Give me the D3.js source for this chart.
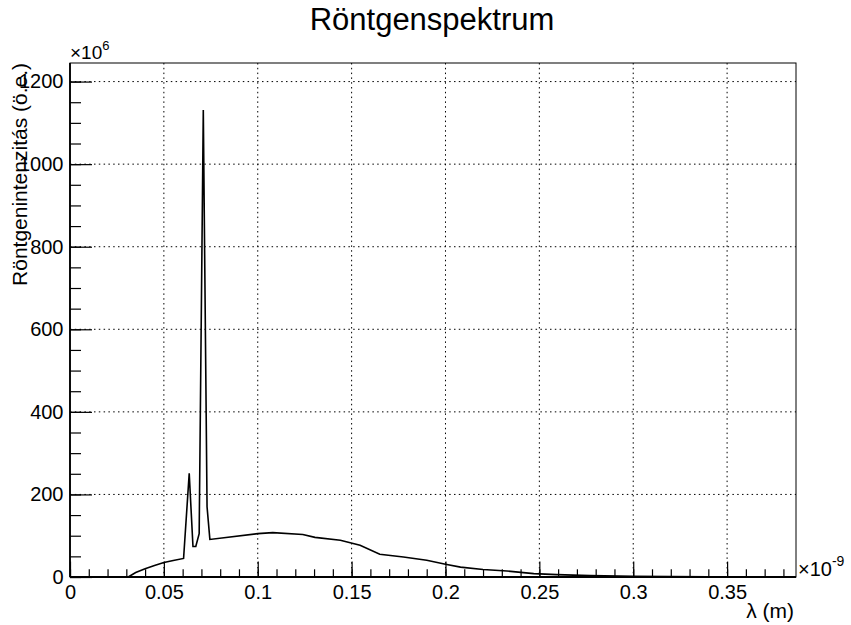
<!DOCTYPE html>
<html>
<head>
<meta charset="utf-8">
<script src="https://cdn.jsdelivr.net/npm/d3@7"></script>
<style>
  body { margin: 0; background: #fff; }
  svg text { font-family: "Liberation Sans", Arial, Helvetica, sans-serif; fill: #000; }
  .grid line { stroke: #000; stroke-width: 1; stroke-dasharray: 1.5,3.3; }
  .axis path { display: none; }
  .axis line { stroke: #000; stroke-width: 1.2; }
  .axis text { font-size: 20px; }
</style>
</head>
<body>
<svg id="chart" width="851" height="625"></svg>
<script>
  "use strict";

  // wavelength in units of 1e-9 m, intensity in units of 1e6 (arb. units)
  var wavelength = [0.031, 0.035, 0.040, 0.045, 0.050, 0.055, 0.0605, 0.0635, 0.0655, 0.067,
    0.0688, 0.071, 0.073, 0.0745, 0.100, 0.108, 0.124, 0.1305, 0.144, 0.1545,
    0.165, 0.1776, 0.190, 0.200, 0.208, 0.220, 0.2327, 0.247, 0.2593, 0.277,
    0.300, 0.320, 0.340, 0.350];
  var intensity = [0, 11, 20, 28, 35, 40, 45, 251, 74, 74,
    105, 1131, 170, 91, 105, 107.6, 103, 96, 89, 77,
    55, 48.5, 40.5, 31, 24, 18, 14.5, 8.2, 5.8, 3.4,
    1.7, 0.8, 0.2, 0];

  var xTickLabels = ["0", "0.05", "0.1", "0.15", "0.2", "0.25", "0.3", "0.35"];
  var yTickLabels = ["0", "200", "400", "600", "800", "1000", "1200"];

  var title = "Röntgenspektrum";
  var xTitle = "λ (m)";
  var yTitle = "Röntgenintenzitás (ö.e.)";

  var svg = d3.select('#chart');
  var frame = { left: 70, right: 796, top: 63, bottom: 577 };

  var x = d3.scaleLinear().domain([0, 0.3867]).range([frame.left, frame.right]);
  var y = d3.scaleLinear().domain([0, 1245]).range([frame.bottom, frame.top]);

  var xMajor = xTickLabels.map(Number);
  var yMajor = yTickLabels.map(Number);

  // dotted grid
  var grid = svg.append('g').classed('grid', true);
  grid.selectAll('line.gx')
    .data(xMajor.filter(function(v) { return v > 0; }))
    .enter()
    .append('line')
    .attr('x1', function(v) { return x(v); })
    .attr('x2', function(v) { return x(v); })
    .attr('y1', frame.top)
    .attr('y2', frame.bottom);
  grid.selectAll('line.gy')
    .data(yMajor.filter(function(v) { return v > 0; }))
    .enter()
    .append('line')
    .attr('x1', frame.left)
    .attr('x2', frame.right)
    .attr('y1', function(v) { return y(v); })
    .attr('y2', function(v) { return y(v); });

  // frame
  svg.append('rect')
    .attr('x', frame.left)
    .attr('y', frame.top)
    .attr('width', frame.right - frame.left)
    .attr('height', frame.bottom - frame.top)
    .attr('fill', 'none')
    .attr('stroke', '#000')
    .attr('stroke-width', 1);

  // spectrum
  var line = d3.line()
    .x(function(d) { return x(d[0]); })
    .y(function(d) { return y(d[1]); });
  svg.append('path')
    .datum(d3.zip(wavelength, intensity))
    .attr('d', line)
    .attr('fill', 'none')
    .attr('stroke', '#000')
    .attr('stroke-width', 1.6)
    .attr('stroke-linejoin', 'miter');

  // x axis: minor ticks, then major ticks with labels
  svg.append('g')
    .classed('axis', true)
    .attr('transform', 'translate(0,' + frame.bottom + ')')
    .call(d3.axisBottom(x).tickValues(x.ticks(40)).tickSizeInner(-7.7).tickSizeOuter(0).tickFormat(''));
  svg.append('g')
    .classed('axis', true)
    .attr('transform', 'translate(0,' + frame.bottom + ')')
    .call(d3.axisBottom(x).tickValues(xMajor).tickSizeInner(-15.4).tickSizeOuter(0).tickPadding(8)
      .tickFormat(function(d, i) { return xTickLabels[i]; }));

  // y axis
  svg.append('g')
    .classed('axis', true)
    .attr('transform', 'translate(' + frame.left + ',0)')
    .call(d3.axisLeft(y).tickValues(y.ticks(25)).tickSizeInner(-11).tickSizeOuter(0).tickFormat(''));
  svg.append('g')
    .classed('axis', true)
    .attr('transform', 'translate(' + frame.left + ',0)')
    .call(d3.axisLeft(y).tickValues(yMajor).tickSizeInner(-22).tickSizeOuter(0).tickPadding(6.5)
      .tickFormat(function(d, i) { return yTickLabels[i]; }));

  // heavier axis lines on left and bottom
  svg.append('line')
    .attr('x1', frame.left).attr('x2', frame.left)
    .attr('y1', frame.top).attr('y2', frame.bottom)
    .attr('stroke', '#000').attr('stroke-width', 1.8);
  svg.append('line')
    .attr('x1', frame.left).attr('x2', frame.right)
    .attr('y1', frame.bottom).attr('y2', frame.bottom)
    .attr('stroke', '#000').attr('stroke-width', 1.8);

  // exponent labels
  var expY = svg.append('text')
    .attr('x', 70)
    .attr('y', 59)
    .style('font-size', '19px');
  expY.append('tspan').text('×10');
  expY.append('tspan').attr('dy', -9).style('font-size', '13px').text('6');

  var expX = svg.append('text')
    .attr('x', 798)
    .attr('y', 576)
    .style('font-size', '20px');
  expX.append('tspan').text('×10');
  expX.append('tspan').attr('dy', -10).style('font-size', '14px').text('-9');

  // titles
  svg.append('text')
    .attr('x', 432)
    .attr('y', 30)
    .attr('text-anchor', 'middle')
    .style('font-size', '31px')
    .text(title);

  svg.append('text')
    .attr('x', 794)
    .attr('y', 618)
    .attr('text-anchor', 'end')
    .style('font-size', '21px')
    .text(xTitle);

  svg.append('text')
    .attr('transform', 'translate(27,63) rotate(-90)')
    .attr('text-anchor', 'end')
    .style('font-size', '21px')
    .text(yTitle);
</script>
</body>
</html>
